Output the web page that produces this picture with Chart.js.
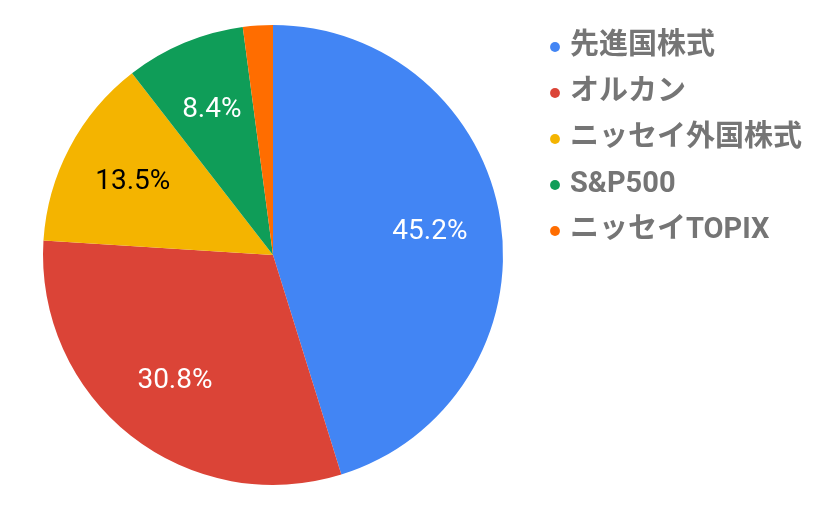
<!DOCTYPE html>
<html>
<head>
<meta charset="utf-8">
<script src="https://cdn.jsdelivr.net/npm/chart.js@4/dist/chart.umd.min.js"></script>
<style>
  html, body { margin: 0; padding: 0; background: #fff; }
  canvas { display: block; }
</style>
</head>
<body>
<canvas id="pie" width="826" height="511"></canvas>
<script>
// values
const funds = ["先進国株式", "オルカン", "ニッセイ外国株式", "S&P500", "ニッセイTOPIX"];
const shares = [45.2, 30.8, 13.5, 8.4, 2.1];
const sliceColors = ["#4285F4", "#DB4437", "#F4B400", "#0F9D58", "#FF6D00"];
const labelColors = ["#ffffff", "#ffffff", "#000000", "#ffffff", "#ffffff"];

const legendFontSize = 29;
const legendFamily = 'Roboto, "Noto Sans CJK JP", sans-serif';
const legendPad = 17;
const legendBox = 1;
const legendLeft = 537.5;

const sliceLabels = {
  id: "sliceLabels",
  afterDatasetsDraw(chart) {
    const ctx = chart.ctx;
    const meta = chart.getDatasetMeta(0);
    const total = shares.reduce((a, b) => a + b, 0);
    ctx.save();
    ctx.font = "28px Roboto, sans-serif";
    ctx.textAlign = "center";
    ctx.textBaseline = "middle";
    meta.data.forEach((arc, i) => {
      const pct = shares[i] / total * 100;
      if (pct < 5) return;
      const p = arc.getProps(["x", "y", "startAngle", "endAngle", "outerRadius"], true);
      const mid = (p.startAngle + p.endAngle) / 2;
      const r = p.outerRadius * 0.69;
      ctx.fillStyle = labelColors[i];
      ctx.fillText(pct.toFixed(1) + "%", p.x + Math.cos(mid) * r, p.y + Math.sin(mid) * r + 1);
    });
    ctx.restore();
  }
};

const chart = new Chart(document.getElementById("pie"), {
  type: "pie",
  data: {
    labels: funds,
    datasets: [{
      data: shares,
      backgroundColor: sliceColors,
      borderWidth: 0,
      hoverOffset: 0
    }]
  },
  options: {
    responsive: false,
    animation: false,
    radius: 230,
    layout: {
      padding: { left: 8.5, right: 40, top: 15.5, bottom: 16.5 }
    },
    plugins: {
      tooltip: { enabled: false },
      legend: {
        position: "right",
        align: "start",
        labels: {
          usePointStyle: true,
          pointStyle: "circle",
          boxWidth: legendBox,
          boxHeight: 7,
          padding: legendPad,
          color: "#757575",
          font: { family: legendFamily, size: legendFontSize, weight: "bold" }
        }
      }
    }
  },
  plugins: [sliceLabels]
});

// move the legend so its left edge lands where the reference has it
const shift = chart.legend.left - legendLeft;
chart.options.layout.padding.right += shift;
chart.update();
</script>
</body>
</html>
